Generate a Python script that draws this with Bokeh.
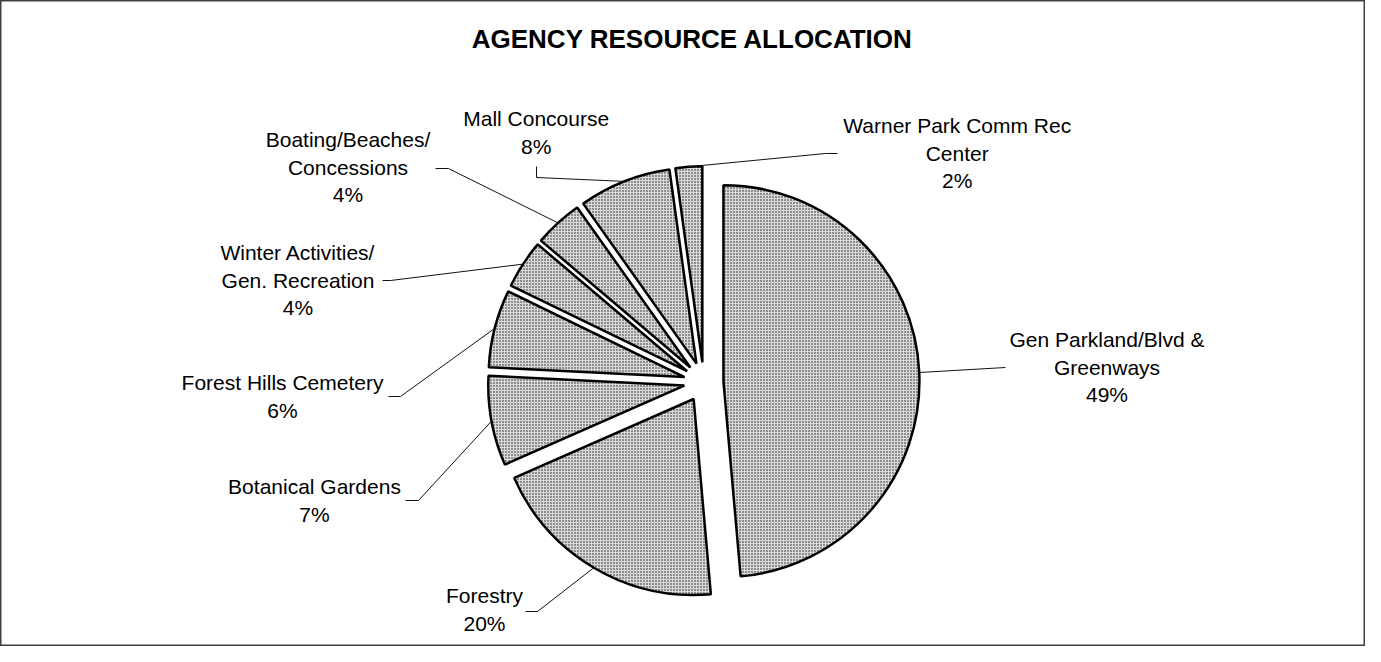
import math
from bokeh.plotting import figure
from bokeh.models import ColumnDataSource, Range1d
from bokeh.embed import file_html
from bokeh.resources import INLINE
from bokeh.core.properties import value

# ---- data ----
title = "AGENCY RESOURCE ALLOCATION"
categories = [
    "Gen Parkland/Blvd &\nGreenways",
    "Forestry",
    "Botanical Gardens",
    "Forest Hills Cemetery",
    "Winter Activities/\nGen. Recreation",
    "Boating/Beaches/\nConcessions",
    "Mall Concourse",
    "Warner Park Comm Rec\nCenter",
]
shares = [48.6, 19.8, 7.4, 6.4, 4.0, 4.0, 7.6, 2.2]

# ---- layout (screen pixels) ----
CX, CY = 703.2, 381.5
R = 196.0
EXPLODE = 19.75
LINE_H = 27.5
TEXT_DY = -8
label_pos = [(1106.5, 347), (484, 603), (314, 494), (282, 390),
             (297.5, 260), (347.5, 147), (535.7, 126), (956.7, 133)]
leader_anchor = [[(1005, 367)], [(525, 611), (537, 611)], [(405, 500), (418, 500)],
                 [(388, 396), (400, 396)], [(382, 280), (390, 280)],
                 [(435, 168), (448, 168)], [(536, 166), (536, 177)],
                 [(837, 153), (825, 153)]]
FONT = value("Liberation Sans")

total = sum(shares)
wx, wy, sa, ea = [], [], [], []
lead_xs, lead_ys = [], []
cum = 0.0
for i, v in enumerate(shares):
    t0 = cum / total * 360.0
    cum += v
    t1 = cum / total * 360.0
    b = math.radians((t0 + t1) / 2)
    ax = CX + EXPLODE * math.sin(b)
    ay = -CY + EXPLODE * math.cos(b)
    wx.append(ax)
    wy.append(ay)
    sa.append(math.radians(90 - t1))
    ea.append(math.radians(90 - t0))
    px = ax + R * math.sin(b)
    py = ay + R * math.cos(b)
    pts = leader_anchor[i]
    lead_xs.append([p[0] for p in pts] + [px])
    lead_ys.append([-p[1] for p in pts] + [py])

p = figure(width=1365, height=646, x_range=Range1d(0, 1365), y_range=Range1d(-646, 0),
           output_backend="svg", toolbar_location=None, min_border=0,
           x_axis_type=None, y_axis_type=None)
p.grid.visible = False
p.outline_line_color = "#404040"
p.outline_line_width = 2
p.background_fill_color = "white"

src = ColumnDataSource(dict(x=wx, y=wy, sa=sa, ea=ea))
p.wedge(x="x", y="y", radius=R, start_angle="sa", end_angle="ea", source=src,
        fill_color="#d9d9d9", hatch_pattern="dot", hatch_color="#1a1a1a",
        hatch_scale=3.0, hatch_weight=1.7,
        line_color="black", line_width=2.5)

p.multi_line(xs=lead_xs, ys=lead_ys, line_color="#111111", line_width=1)

tx, ty, tt = [], [], []
for i, cat in enumerate(categories):
    pct = f"{round(shares[i] / total * 100):d}%"
    lines = cat.split("\n") + [pct]
    lx, ly = label_pos[i]
    for k, s in enumerate(lines):
        tx.append(lx)
        ty.append(-(ly + k * LINE_H + TEXT_DY))
        tt.append(s)
p.text(x=tx, y=ty, text=tt, text_font=FONT, text_font_size="21px",
       text_align="center", text_baseline="alphabetic", text_color="black")

p.text(x=[692], y=[-(46 + TEXT_DY)], text=[title], text_font=FONT, text_font_size="26px",
       text_font_style="bold", text_align="center", text_baseline="alphabetic",
       text_color="black")

open("out.html", "w").write(file_html(p, INLINE))
